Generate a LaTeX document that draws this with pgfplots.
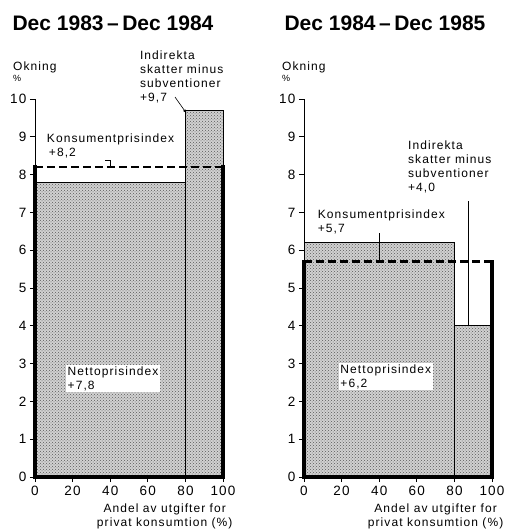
\documentclass[border=0pt]{standalone}
\usepackage{pgfplots}
\pgfplotsset{compat=1.18}
\usetikzlibrary{patterns,arrows.meta}
\usepackage{fontspec}
\setmainfont{Liberation Sans}
\newfontfamily\titlefont{Liberation Sans}
\newfontfamily\labfont{Liberation Sans}[LetterSpace=9]
\newcommand{\lab}{\labfont\fontsize{12}{14}\selectfont}
\begin{document}
\begin{tikzpicture}
\useasboundingbox (-35pt,-54pt) rectangle (473pt,477pt);
\pgfplotsset{panel/.style={
  scale only axis, width=188pt, height=378pt,
  xmin=0, xmax=100, ymin=0, ymax=10, clip=false,
  axis lines=left, axis line style={-, line width=0.8pt},
  tick align=outside, major tick length=5pt,
  tick style={line width=0.8pt, black},
  xtick={0,20,...,100}, ytick={0,1,...,10},
  /pgf/number format/assume math mode=true,
  tick label style={font=\labfont\fontsize{13.5}{14}\selectfont},
  xticklabel style={yshift=-1pt},
  anchor=south west},
  bar/.style={draw=black, line width=0.7pt, fill=black!18, postaction={pattern=crosshatch dots, pattern color=black!65}},
  border/.style={line width=3.6pt, black, line cap=rect},
  cpi/.style={line width=2.2pt, black, dash pattern=on 8pt off 4pt}}
% ---------- Left panel ----------
\node[font=\titlefont\bfseries\fontsize{21}{21}\selectfont] at (78pt,454pt) {Dec 1983\,–\,Dec 1984};
\begin{axis}[panel, at={(0pt,0pt)}]
\addplot[bar] coordinates {(0,0) (0,7.8) (80,7.8) (80,0)} -- cycle;
\addplot[bar] coordinates {(80,0) (80,9.7) (100,9.7) (100,0)} -- cycle;
\addplot[cpi] coordinates {(0,8.2) (100,8.2)};
\addplot[border] coordinates {(0,8.2) (0,0) (100,0) (100,8.2)};
\addplot[line width=1.3pt, black] coordinates {(80,0) (80,7.8)};
\node[anchor=west, align=left, font=\lab] at (axis cs:-13.5,10.72) {Okning\\[-3pt]{\fontsize{9}{9}\selectfont\%}};
\node[anchor=west, align=left, font=\lab] at (axis cs:4.5,8.77) {Konsumentprisindex\\\,+8,2};
\draw[line width=0.6pt] (axis cs:37.5,8.37) -- (axis cs:40,8.37) -- (axis cs:40,8.22);
\node[anchor=north west, align=left, font=\lab] at (axis cs:54,11.38) {Indirekta\\skatter minus\\subventioner\\+9,7};
\draw[line width=0.6pt, -{Latex[length=4pt,width=3pt]}] (axis cs:74.5,10.05) -- (axis cs:80.6,9.62);
\node[anchor=west, align=left, font=\lab, fill=white, inner sep=1.5pt] at (axis cs:16.5,2.6) {Nettoprisindex\\+7,8};
\node[align=center, font=\lab] at (axis cs:69,-1.05) {Andel av utgifter for\\privat konsumtion (\%)};
\end{axis}
% ---------- Right panel ----------
\node[font=\titlefont\bfseries\fontsize{21}{21}\selectfont] at (350pt,454pt) {Dec 1984\,–\,Dec 1985};
\begin{axis}[panel, at={(269pt,0pt)}]
\addplot[bar] coordinates {(0,0) (0,6.2) (80,6.2) (80,0)} -- cycle;
\addplot[bar] coordinates {(80,0) (80,4.0) (100,4.0) (100,0)} -- cycle;
\addplot[cpi] coordinates {(0,5.7) (100,5.7)};
\addplot[border] coordinates {(0,5.7) (0,0) (100,0) (100,5.7)};
\addplot[line width=1.3pt, black] coordinates {(80,0) (80,6.2)};
\node[anchor=west, align=left, font=\lab] at (axis cs:-13.5,10.72) {Okning\\[-3pt]{\fontsize{9}{9}\selectfont\%}};
\node[anchor=west, align=left, font=\lab] at (axis cs:5.5,6.75) {Konsumentprisindex\\+5,7};
\draw[line width=0.6pt] (axis cs:40,6.45) -- (axis cs:40,5.72);
\draw[line width=0.6pt] (axis cs:38.5,6.22) -- (axis cs:41.5,6.22);
\node[anchor=north west, align=left, font=\lab] at (axis cs:53.5,9.0) {Indirekta\\skatter minus\\subventioner\\+4,0};
\draw[line width=0.5pt] (axis cs:87.3,7.3) -- (axis cs:87.3,4.0);
\node[anchor=west, align=left, font=\lab, fill=white, inner sep=1.5pt] at (axis cs:18.5,2.65) {Nettoprisindex\\+6,2};
\node[align=center, font=\lab] at (axis cs:70,-1.05) {Andel av utgifter for\\privat konsumtion (\%)};
\end{axis}
\end{tikzpicture}
\end{document}
